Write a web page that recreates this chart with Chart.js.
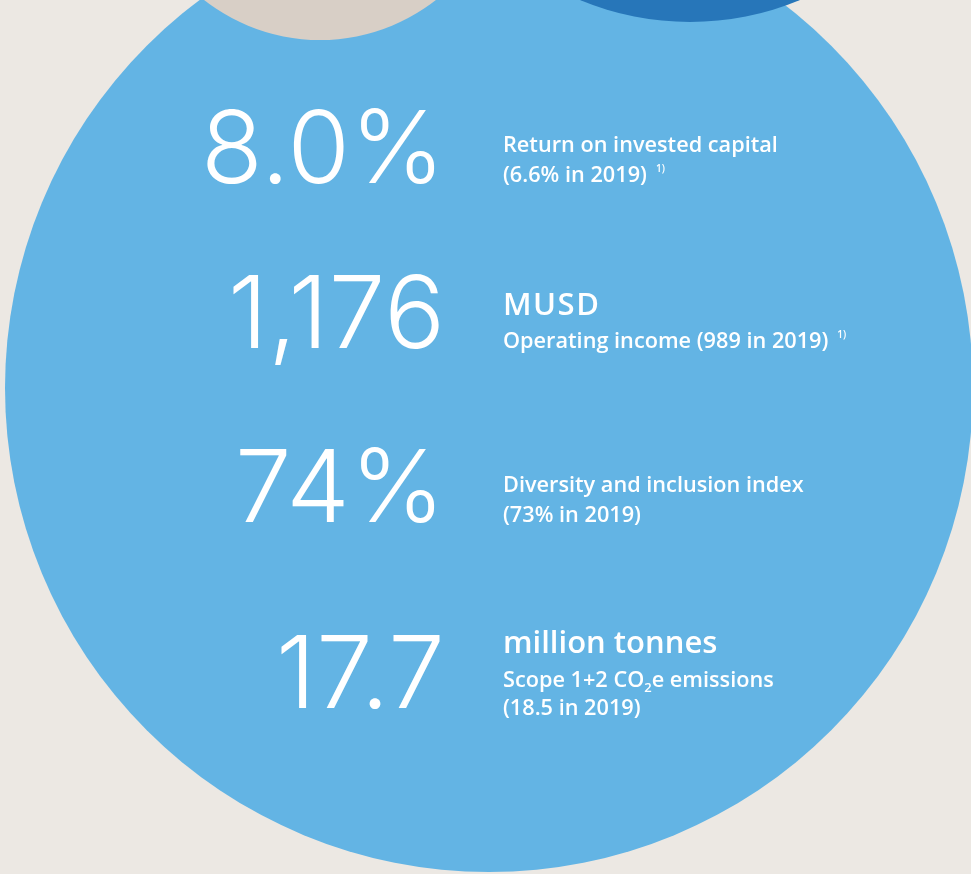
<!DOCTYPE html>
<html lang="en">
<head>
    <meta charset="UTF-8">
    <title>Key figures 2020</title>
    <script src="https://cdn.jsdelivr.net/npm/chart.js"></script>
    <style>
        html, body {
            margin: 0;
            padding: 0;
            background-color: #ece8e3;
            overflow: hidden;
        }
        #wrap {
            position: relative;
            width: 971px;
            height: 874px;
        }
        #circles {
            position: absolute;
            left: 0;
            top: 0;
        }
        .txt {
            position: absolute;
            color: #ffffff;
            white-space: nowrap;
        }
        .figure {
            font-family: Inter, Roboto, sans-serif;
            font-weight: 300;
            font-size: 101px;
            letter-spacing: 0.5px;
        }
        .label {
            font-family: "Open Sans", sans-serif;
            font-weight: 600;
            font-size: 21.7px;
        }
        .unit {
            font-family: "Open Sans", sans-serif;
            font-weight: 600;
            font-size: 31px;
        }
        .wide {
            letter-spacing: 1.5px;
        }
        .fn {
            font-size: 10px;
            position: relative;
            top: -10px;
            margin-left: 9px;
        }
        sub {
            font-size: 13px;
            vertical-align: -5px;
            line-height: 0;
        }
        .base {
            display: inline-block;
            width: 0;
            height: 0;
            vertical-align: baseline;
        }
    </style>
</head>
<body>
    <div id="wrap">
        <canvas id="circles" width="971" height="874"></canvas>
    </div>

    <script>
        // circles (page coordinates, px)
        const circleX = [489, 320, 690];
        const circleY = [388, -148, -264];
        const circleR = [484, 188, 286];
        const circleColors = ['#63b4e4', '#d8cfc6', '#2776b9'];

        // key figures
        const figures = ['8.0%', '1,176', '74%', '17.7'];
        const units = ['', 'MUSD', '', 'million tonnes'];
        const metrics = ['Return on invested capital', 'Operating income', 'Diversity and inclusion index', 'Scope 1+2 CO<sub>2</sub>e emissions'];
        const prior = ['6.6%', '989', '73%', '18.5'];

        new Chart(document.getElementById('circles'), {
            type: 'bubble',
            data: {
                datasets: [{
                    data: circleX.map((x, i) => ({ x: x, y: circleY[i], r: circleR[i] })),
                    backgroundColor: circleColors,
                    borderWidth: 0,
                    hoverRadius: 0,
                    clip: false
                }]
            },
            options: {
                responsive: false,
                animation: false,
                events: [],
                // bubbles would otherwise shrink the chart area to fit their radius
                layout: { padding: 0, autoPadding: false },
                plugins: { legend: { display: false }, tooltip: { enabled: false } },
                scales: {
                    x: { type: 'linear', min: 0, max: 971, display: false },
                    y: { type: 'linear', min: 0, max: 874, reverse: true, display: false }
                }
            }
        });

        // text overlay, placed by baseline
        const wrap = document.getElementById('wrap');
        function place(html, cls, baseline, left, right) {
            const d = document.createElement('div');
            d.className = 'txt ' + cls;
            d.innerHTML = html + '<span class="base"></span>';
            wrap.appendChild(d);
            const b = d.querySelector('.base').offsetTop;
            d.style.top = (baseline - b) + 'px';
            if (right !== undefined) {
                d.style.left = (right - d.offsetWidth) + 'px';
            } else {
                d.style.left = left + 'px';
            }
        }

        const figBase = [183, 348, 522, 708];
        const labelLeft = 503;
        const fnMark = '<span class="fn">1)</span>';

        document.fonts.ready.then(() => {
            figures.forEach((f, i) => place(f, 'figure', figBase[i], 0, 445));

            // row 1
            place(metrics[0], 'label', 152, labelLeft);
            place('(' + prior[0] + ' in 2019)' + fnMark, 'label', 182, labelLeft);
            // row 2
            place(units[1], 'unit wide', 315, labelLeft);
            place(metrics[1] + ' (' + prior[1] + ' in 2019)' + fnMark, 'label', 348, labelLeft);
            // row 3
            place(metrics[2], 'label', 492, labelLeft);
            place('(' + prior[2] + ' in 2019)', 'label', 522, labelLeft);
            // row 4
            place(units[3], 'unit', 653, labelLeft);
            place(metrics[3], 'label', 687, labelLeft);
            place('(' + prior[3] + ' in 2019)', 'label', 715, labelLeft);
        });
    </script>
</body>
</html>
